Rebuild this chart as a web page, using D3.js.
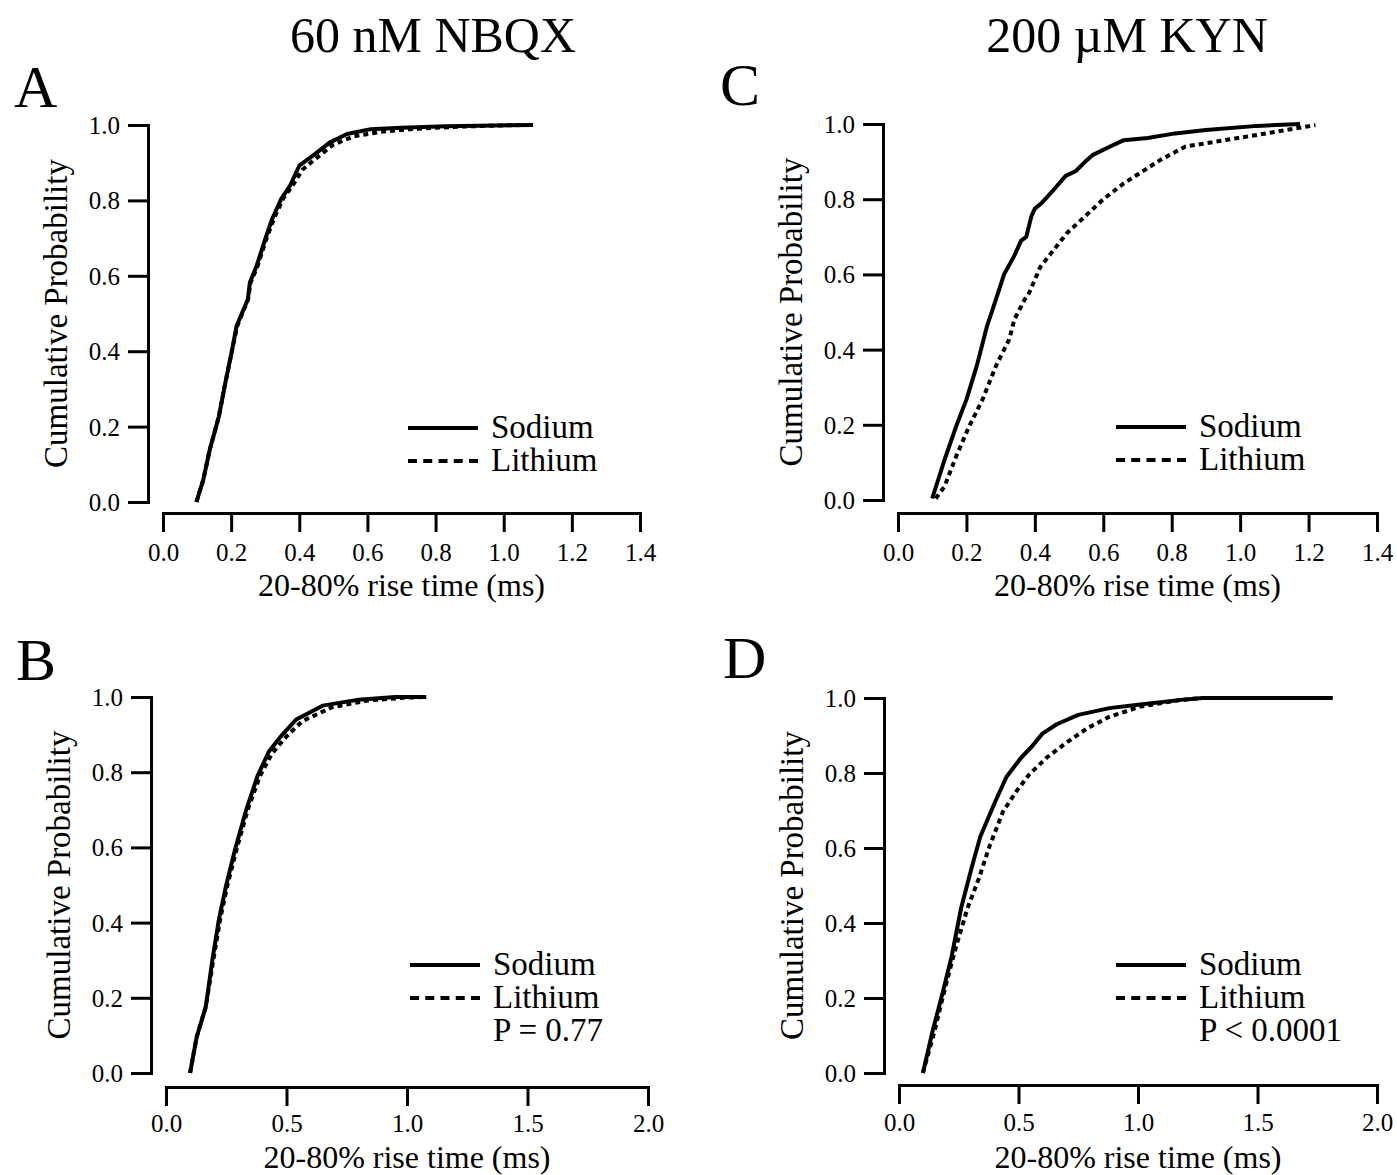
<!DOCTYPE html>
<meta charset="utf-8">
<html>
<head>
  <style>
    body { margin: 0; background: white; }
    svg text { font-family: "Liberation Serif", "Times New Roman", serif; fill: black; }
    .axis path, .axis line { stroke: black; stroke-width: 3px; }
    .axis text { font-size: 25px; }
    .curve { fill: none; stroke: black; stroke-width: 4px; stroke-linejoin: round; }
    .dotted { stroke-dasharray: 5,4; stroke-linecap: butt; }
  </style>
</head>
<body>
<svg width="1397" height="1175"></svg>

<script src="https://d3js.org/d3.v7.min.js"></script>
<script>

// Cumulative curves: [rise time (ms), cumulative probability]
const aSodium = [[0.098,0],[0.118,0.058],[0.137,0.138],[0.164,0.227],[0.183,0.316],[0.203,0.404],
  [0.216,0.467],[0.249,0.538],[0.255,0.582],[0.275,0.627],[0.30,0.697],[0.32,0.75],[0.347,0.804],
  [0.373,0.839],[0.40,0.892],[0.44,0.919],[0.49,0.954],[0.54,0.976],[0.61,0.989],[0.70,0.993],
  [0.83,0.997],[1.086,1.0]];
const aLithium = [[0.098,0],[0.118,0.058],[0.137,0.138],[0.164,0.227],[0.183,0.316],[0.203,0.404],
  [0.218,0.467],[0.25,0.538],[0.257,0.582],[0.278,0.627],[0.303,0.697],[0.325,0.75],[0.352,0.804],
  [0.38,0.839],[0.41,0.882],[0.45,0.912],[0.50,0.948],[0.56,0.97],[0.64,0.982],[0.74,0.99],
  [0.88,0.996],[1.05,1.0]];

const bSodium = [[0.10,0],[0.127,0.095],[0.165,0.176],[0.193,0.303],[0.22,0.41],[0.25,0.50],
  [0.286,0.593],[0.333,0.70],[0.38,0.79],[0.427,0.855],[0.483,0.90],[0.54,0.94],[0.65,0.977],
  [0.80,0.993],[0.95,1.0],[1.08,1.0]];
const bLithium = [[0.10,0],[0.127,0.095],[0.165,0.176],[0.197,0.303],[0.225,0.41],[0.255,0.50],
  [0.292,0.593],[0.339,0.70],[0.39,0.79],[0.44,0.85],[0.50,0.895],[0.566,0.936],[0.69,0.973],
  [0.84,0.991],[0.99,0.998],[1.08,1.0]];

const cSodium = [[0.10,0.004],[0.136,0.107],[0.17,0.196],[0.20,0.267],[0.23,0.356],[0.26,0.462],
  [0.286,0.533],[0.31,0.60],[0.34,0.65],[0.36,0.69],[0.375,0.70],[0.39,0.755],[0.40,0.775],
  [0.42,0.79],[0.455,0.825],[0.49,0.862],[0.52,0.875],[0.545,0.898],[0.57,0.918],[0.62,0.94],
  [0.66,0.957],[0.73,0.963],[0.81,0.975],[0.90,0.984],[1.05,0.995],[1.175,1.0]];
const cLithium = [[0.11,0.004],[0.136,0.036],[0.17,0.116],[0.208,0.196],[0.247,0.267],[0.286,0.356],
  [0.325,0.427],[0.34,0.48],[0.37,0.533],[0.383,0.55],[0.416,0.62],[0.455,0.665],[0.494,0.71],
  [0.545,0.753],[0.60,0.80],[0.66,0.842],[0.766,0.904],[0.84,0.94],[1.05,0.971],[1.22,0.997]];

const dSodium = [[0.10,0],[0.14,0.11],[0.185,0.22],[0.22,0.31],[0.26,0.44],[0.305,0.55],[0.34,0.63],
  [0.40,0.72],[0.45,0.79],[0.51,0.84],[0.555,0.87],[0.60,0.905],[0.66,0.93],[0.75,0.955],
  [0.88,0.973],[1.0,0.982],[1.18,0.995],[1.27,1.0],[1.815,1.0]];
const dLithium = [[0.10,0],[0.148,0.11],[0.194,0.23],[0.24,0.34],[0.287,0.44],[0.333,0.517],
  [0.38,0.607],[0.435,0.697],[0.49,0.75],[0.546,0.797],[0.62,0.842],[0.694,0.878],[0.787,0.919],
  [0.88,0.95],[1.01,0.977],[1.18,0.995],[1.27,1.0]];

// Ticks, labels
const xTicksAC = [0, 0.2, 0.4, 0.6, 0.8, 1.0, 1.2, 1.4];
const xTicksBD = [0, 0.5, 1.0, 1.5, 2.0];
const yTicks = [0, 0.2, 0.4, 0.6, 0.8, 1.0];
const seriesNames = ["Sodium", "Lithium"];
const columnTitles = ["60 nM NBQX", "200 \u00B5M KYN"];
const xTitle = "20-80% rise time (ms)";
const yTitle = "Cumulative Probability";

// Panel layout (pixel positions of each panel's axes and legend)
const panels = [
  { letter: "A", letterX: 14, letterY: 107, yAxisX: 148, yTop: 125, yBot: 502, xLeft: 163, xRight: 640,
    xAxisY: 513, xmax: 1.4, ticks: xTicksAC, sodium: aSodium, lithium: aLithium,
    legX: 408, legY: 428, pText: null, titleY: 596, pad: 11 },
  { letter: "B", letterX: 16, letterY: 680, yAxisX: 151, yTop: 697, yBot: 1073, xLeft: 166, xRight: 648,
    xAxisY: 1087, xmax: 2.0, ticks: xTicksBD, sodium: bSodium, lithium: bLithium,
    legX: 410, legY: 965, pText: "P = 0.77", titleY: 1168, pad: 8 },
  { letter: "C", letterX: 720, letterY: 105, yAxisX: 883, yTop: 124, yBot: 500, xLeft: 898, xRight: 1377,
    xAxisY: 513, xmax: 1.4, ticks: xTicksAC, sodium: cSodium, lithium: cLithium,
    legX: 1116, legY: 427, pText: null, titleY: 596, pad: 11 },
  { letter: "D", letterX: 723, letterY: 678, yAxisX: 884, yTop: 698, yBot: 1073, xLeft: 899, xRight: 1377,
    xAxisY: 1085, xmax: 2.0, ticks: xTicksBD, sodium: dSodium, lithium: dLithium,
    legX: 1116, legY: 965, pText: "P < 0.0001", titleY: 1168, pad: 9 }
];

const svg = d3.select("svg");

// column titles
svg.append("text").attr("x", 433).attr("y", 52).attr("text-anchor", "middle")
  .style("font-size", "50px").text(columnTitles[0]);
svg.append("text").attr("x", 1127).attr("y", 52).attr("text-anchor", "middle")
  .style("font-size", "50px").text(columnTitles[1]);

const fmt = d3.format(".1f");

panels.forEach(p => {
  const x = d3.scaleLinear().domain([0, p.xmax]).range([p.xLeft, p.xRight]);
  const y = d3.scaleLinear().domain([0, 1]).range([p.yBot, p.yTop]);

  svg.append("text").attr("x", p.letterX).attr("y", p.letterY)
    .style("font-size", "60px").text(p.letter);

  // y axis
  svg.append("g").attr("class", "axis")
    .attr("transform", `translate(${p.yAxisX},0)`)
    .call(d3.axisLeft(y).tickValues(yTicks).tickFormat(fmt).tickSize(20).tickSizeOuter(0).tickPadding(8))
    .call(g => g.selectAll("text").attr("dy", "0.34em"));

  // x axis
  svg.append("g").attr("class", "axis")
    .attr("transform", `translate(0,${p.xAxisY})`)
    .call(d3.axisBottom(x).tickValues(p.ticks).tickFormat(fmt).tickSize(19).tickSizeOuter(0).tickPadding(p.pad));

  svg.selectAll(".axis .domain").attr("stroke-linecap", "square");

  // axis titles
  svg.append("text")
    .attr("transform", `translate(${p.yAxisX - 81},${(p.yTop + p.yBot) / 2}) rotate(-90)`)
    .attr("text-anchor", "middle").style("font-size", "33px").text(yTitle);
  svg.append("text").attr("x", (p.xLeft + p.xRight) / 2).attr("y", p.titleY)
    .attr("text-anchor", "middle").style("font-size", "32px").text(xTitle);

  // curves
  const line = d3.line().x(d => x(d[0])).y(d => y(d[1]));
  svg.append("path").attr("class", "curve dotted").attr("d", line(p.lithium));
  svg.append("path").attr("class", "curve").attr("d", line(p.sodium));

  // legend
  const lg = svg.append("g").attr("transform", `translate(${p.legX},${p.legY})`);
  lg.append("line").attr("x1", 0).attr("x2", 70).attr("y1", 0).attr("y2", 0)
    .attr("stroke", "black").attr("stroke-width", 4);
  lg.append("line").attr("x1", 0).attr("x2", 70).attr("y1", 33).attr("y2", 33)
    .attr("stroke", "black").attr("stroke-width", 4).attr("stroke-dasharray", "9,6.25");
  lg.selectAll("text.leg").data(seriesNames).join("text").attr("class", "leg")
    .attr("x", 83).attr("y", (d, i) => 10 + i * 33)
    .style("font-size", "33px").text(d => d);
  if (p.pText) {
    lg.append("text").attr("x", 83).attr("y", 76).style("font-size", "33px").text(p.pText);
  }
});

</script>
</body>
</html>
